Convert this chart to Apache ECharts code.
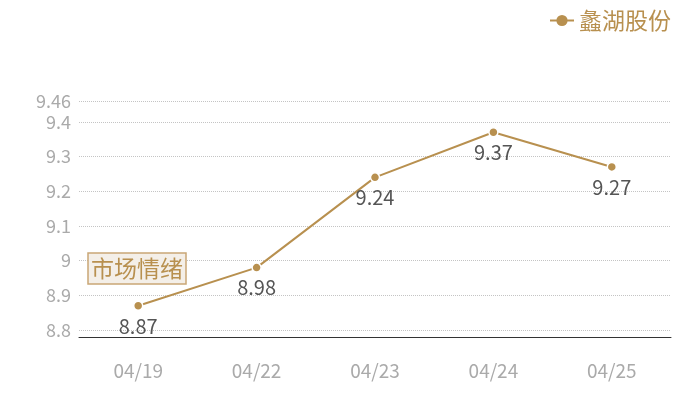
<!DOCTYPE html>
<html>
<head>
<meta charset="utf-8">
<script src="https://cdn.jsdelivr.net/npm/echarts@6/dist/echarts.min.js"></script>
<style>
	html, body { margin: 0; padding: 0; background: #fff; }
	#main { width: 700px; height: 400px; }
</style>
</head>
<body>
<div id="main"></div>
<script>
var dates = ['04/19', '04/22', '04/23', '04/24', '04/25'];
var prices = [8.87, 8.98, 9.24, 9.37, 9.27];
var seriesName = '蠡湖股份';
var boxText = '市场情绪';

var gold = '#b8904f';
var fontFam = '"Noto Sans CJK SC", "Noto Sans", sans-serif';

var myChart = echarts.init(document.getElementById('main'));
var option = {
	backgroundColor: '#fff',
	color: gold,
	title: {
		text: boxText,
		left: 88,
		top: 253,
		padding: [4, 3, 4, 3],
		backgroundColor: '#f4efe8',
		borderColor: '#c9a776',
		borderWidth: 1.5,
		textStyle: {
			color: gold,
			fontSize: 23,
			fontWeight: 'normal',
			fontFamily: fontFam
		}
	},
	legend: {
		right: 24,
		top: 4,
		itemWidth: 24,
		itemHeight: 14,
		itemGap: 6,
		itemStyle: {
			borderWidth: 0
		},
		textStyle: {
			color: gold,
			fontSize: 23,
			fontFamily: fontFam
		},
		data: [seriesName]
	},
	grid: {
		left: 79,
		right: 29,
		top: 101,
		bottom: 63
	},
	xAxis: {
		type: 'category',
		data: dates,
		axisTick: {
			show: false
		},
		axisLine: {
			show: true,
			lineStyle: {
				color: '#333',
				width: 1
			}
		},
		axisLabel: {
			color: '#aaa',
			fontSize: 19,
			margin: 24,
			fontFamily: fontFam
		}
	},
	yAxis: {
		type: 'value',
		min: 8.78,
		max: 9.46,
		splitNumber: 5,
		axisLine: {
			show: false
		},
		axisTick: {
			show: false
		},
		axisLabel: {
			color: '#aaa',
			fontSize: 18,
			margin: 8,
			fontFamily: fontFam,
			showMinLabel: false,
			showMaxLabel: true
		},
		splitLine: {
			show: true,
			lineStyle: {
				color: '#c4c4c4',
				type: 'dotted'
			}
		}
	},
	series: [{
		name: seriesName,
		type: 'line',
		data: prices,
		symbol: 'circle',
		symbolSize: 9,
		lineStyle: {
			color: gold,
			width: 2
		},
		itemStyle: {
			color: gold,
			borderColor: '#fff',
			borderWidth: 1.5
		},
		label: {
			show: true,
			position: 'bottom',
			distance: 5,
			color: '#555',
			fontSize: 20,
			fontFamily: fontFam
		}
	}]
};
myChart.setOption(option);
</script>
</body>
</html>
